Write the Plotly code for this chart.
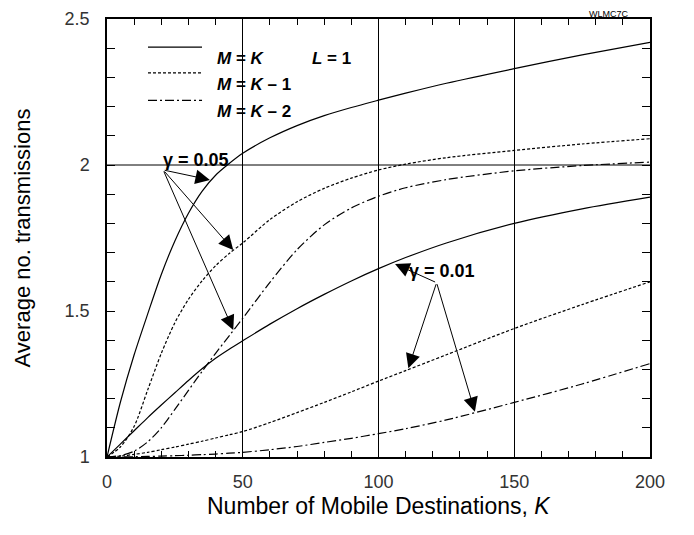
import plotly.graph_objects as go

# ---- data ----
K = [0, 5, 10, 15, 20, 25, 30, 35, 40, 45, 50, 60, 70, 80, 90, 100, 110, 125, 150, 175, 200]

g05_M_K  = [1.0, 1.19, 1.35, 1.49, 1.625, 1.74, 1.835, 1.91, 1.965, 2.005, 2.04, 2.093, 2.135, 2.169, 2.197, 2.222, 2.246, 2.28, 2.33, 2.377, 2.42]
g05_M_K1 = [1.0, 1.035, 1.105, 1.23, 1.355, 1.46, 1.54, 1.603, 1.655, 1.697, 1.733, 1.813, 1.874, 1.92, 1.955, 1.983, 2.003, 2.025, 2.05, 2.072, 2.09]
g05_M_K2 = [1.0, 1.005, 1.02, 1.052, 1.10, 1.163, 1.228, 1.293, 1.355, 1.415, 1.475, 1.598, 1.71, 1.795, 1.853, 1.893, 1.922, 1.95, 1.98, 1.998, 2.01]
g01_M_K  = [1.0, 1.045, 1.09, 1.135, 1.178, 1.22, 1.262, 1.302, 1.338, 1.369, 1.398, 1.455, 1.508, 1.557, 1.603, 1.645, 1.683, 1.733, 1.80, 1.85, 1.89]
g01_M_K1 = [1.0, 1.003, 1.009, 1.016, 1.025, 1.034, 1.044, 1.054, 1.065, 1.076, 1.087, 1.118, 1.152, 1.187, 1.223, 1.26, 1.296, 1.35, 1.44, 1.522, 1.60]
g01_M_K2 = [1.0, 1.0003, 1.001, 1.002, 1.003, 1.0045, 1.006, 1.008, 1.01, 1.013, 1.016, 1.025, 1.036, 1.05, 1.064, 1.08, 1.097, 1.127, 1.187, 1.25, 1.32]

x_ticks = [0, 50, 100, 150, 200]
y_ticks = [1, 1.5, 2, 2.5]
y_ticklabels = ["1", "1.5", "2", "2.5"]

# arrows: (head K, head value) from a common tail
g05_tail = (20.7, 1.983)
g05_heads = [(37.9, 1.949), (46.5, 1.709), (46.5, 1.435)]
g01_tail = (121.4, 1.597)
g01_heads = [(106.1, 1.661), (111.0, 1.304), (135.5, 1.155)]

FONT = "Liberation Sans, Arial, Helvetica, sans-serif"
SOLID = "solid"
SHORTDASH = "3px,2px"
DASHDOT = "9px,3px,2px,3px"

fig = go.Figure()
series = [
    (g05_M_K, SOLID), (g05_M_K1, SHORTDASH), (g05_M_K2, DASHDOT),
    (g01_M_K, SOLID), (g01_M_K1, SHORTDASH), (g01_M_K2, DASHDOT),
]
for ys, dash in series:
    fig.add_trace(go.Scatter(x=K, y=ys, mode="lines", showlegend=False,
                             line=dict(color="black", width=1.2, dash=dash, shape="spline", smoothing=0.8)))

# horizontal reference line at 2
fig.add_shape(type="line", xref="paper", yref="y", x0=0, x1=1, y0=2, y1=2,
              line=dict(color="black", width=1))

# arrows
for tail, heads in [(g05_tail, g05_heads), (g01_tail, g01_heads)]:
    for hx, hy in heads:
        fig.add_annotation(x=hx, y=hy, ax=tail[0], ay=tail[1], xref="x", yref="y",
                           axref="x", ayref="y", text="", showarrow=True,
                           arrowhead=2, arrowsize=2.9, arrowwidth=1, arrowcolor="black")

# gamma labels
fig.add_annotation(x=0.0994, y=0.705, xref="paper", yref="paper", text="<b>γ = 0.05</b>",
                   showarrow=False, font=dict(family=FONT, size=18, color="black"))
fig.add_annotation(x=0.681, y=0.425, xref="paper", yref="paper", text="<b>γ = 0.01</b>",
                   showarrow=False, font=dict(family=FONT, size=18, color="black"))

# custom legend
leg_rows = [(0.936, SOLID, "<b><i>M</i> = <i>K</i></b>"),
            (0.877, SHORTDASH, "<b><i>M</i> = <i>K</i> – 1</b>"),
            (0.814, DASHDOT, "<b><i>M</i> = <i>K</i> – 2</b>")]
for yy, dash, label in leg_rows:
    fig.add_shape(type="line", xref="paper", yref="paper", x0=0.0755, x1=0.175, y0=yy, y1=yy,
                  line=dict(color="black", width=1.2, dash=dash))
    fig.add_annotation(x=0.199, y=yy, xref="paper", yref="paper", text=label, xanchor="left",
                       showarrow=False, font=dict(family=FONT, size=17, color="black"))
fig.add_annotation(x=0.414, y=0.936, xref="paper", yref="paper", text="<b><i>L</i> = 1</b>",
                   showarrow=False, font=dict(family=FONT, size=17, color="black"))
fig.add_annotation(x=0.963, y=1.0, xref="paper", yref="paper", text="WLMC7C", yanchor="middle",
                   yshift=5, showarrow=False, borderpad=0, font=dict(family=FONT, size=9, color="black"))

# x-axis title (placed as a centred text below the tick labels)
fig.add_annotation(x=0.5, y=0, xref="paper", yref="paper", yanchor="middle", yshift=-49,
                   text="Number of Mobile Destinations, <i>K</i>", showarrow=False,
                   font=dict(family=FONT, size=23, color="black"))

fig.update_xaxes(range=[0, 200], tickvals=x_ticks, ticktext=[str(v) for v in x_ticks],
                 showgrid=True, gridcolor="black", gridwidth=1, zeroline=False, automargin=False,
                 showline=True, linecolor="black", linewidth=1.5, mirror="ticks",
                 ticks="inside", ticklen=7, tickcolor="black", ticklabelstandoff=8,
                 minor=dict(dtick=10, ticks="inside", ticklen=6, tickcolor="black", showgrid=False),
                 tickfont=dict(family=FONT, size=18, color="#333"))
fig.update_yaxes(range=[1, 2.5], tickvals=y_ticks, ticktext=y_ticklabels,
                 showgrid=False, zeroline=False, automargin=False,
                 showline=True, linecolor="black", linewidth=1.5, mirror="ticks",
                 ticks="inside", ticklen=8, tickcolor="black", ticklabelstandoff=12,
                 minor=dict(dtick=0.1, ticks="inside", ticklen=8, tickcolor="black", showgrid=False),
                 tickfont=dict(family=FONT, size=18, color="#333"),
                 title=dict(text="Average no. transmissions", standoff=28,
                            font=dict(family=FONT, size=22, color="black")))

# the page adds an 8px body margin, so the figure is sized/margined to land the plot area in place
fig.update_layout(width=686, height=527, margin=dict(l=99, r=44, t=11, b=78),
                  plot_bgcolor="white", paper_bgcolor="white", showlegend=False)

fig.write_html("out.html")
